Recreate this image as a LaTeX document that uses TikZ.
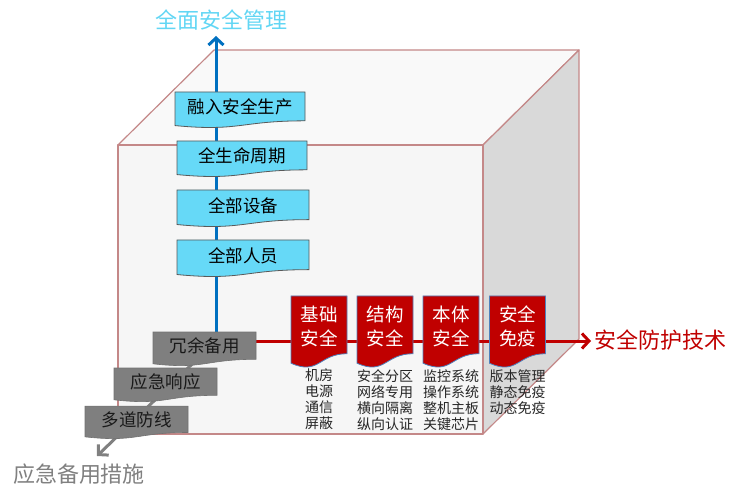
\documentclass[tikz,border=0pt]{standalone}
\usepackage{fontspec}
\setmainfont{Noto Sans CJK SC}
\usetikzlibrary{calc,arrows.meta}
\pgfdeclarelayer{cubelayer}
\pgfdeclarelayer{arrowlayer}
\pgfdeclarelayer{shapelayer}
\pgfsetlayers{cubelayer,arrowlayer,shapelayer,main}
\definecolor{edgered}{HTML}{C48888}
\definecolor{frontfill}{HTML}{F6F6F6}
\definecolor{topfill}{HTML}{F9F9F9}
\definecolor{sidefill}{HTML}{D9D9D9}
\definecolor{cyanfill}{HTML}{66D9F7}
\definecolor{titlecyan}{HTML}{62D6F4}
\definecolor{axisblue}{HTML}{0070C0}
\definecolor{axisred}{HTML}{C00000}
\definecolor{axisgray}{HTML}{808080}
\definecolor{boxgray}{HTML}{7F7F7F}
\definecolor{redborder}{HTML}{4F81BD}
\newcommand\docshape[2]{%
  \begin{pgfonlayer}{shapelayer}
  \path[#2] (#1.north west) -- (#1.north east)
    -- ($(#1.north east)!0.9548!(#1.south east)$)
    .. controls ($(#1.north)!0.9548!(#1.south)$) and ($(#1.north)!1.3179!(#1.south)$)
    .. ($(#1.north west)!1.1119!(#1.south west)$) -- cycle;
  \end{pgfonlayer}}
\tikzset{
  boxtext/.style={inner sep=0pt, outer sep=0pt, align=center, font=\fontsize{17.5}{21}\selectfont, text=black},
  bluebox/.style={boxtext},
  graybox/.style={boxtext, text=black!90},
  redbox/.style={boxtext, text=white, font=\fontsize{18.5}{24}\selectfont, minimum width=56pt, minimum height=60.5pt},
  blueshape/.style={fill=cyanfill, draw=black!65, line width=0.8pt},
  grayshape/.style={fill=boxgray, draw=boxgray!90!black, line width=0.6pt},
  redshape/.style={fill=axisred, draw=redborder, line width=0.8pt},
  sublist/.style={inner sep=0pt, align=center, anchor=north, font=\fontsize{14}{16}\selectfont, text=black!85},
  cubeedge/.style={draw=edgered, line width=1.2pt, line join=round},
  axis/.style={line width=3pt, -{Straight Barb[length=7pt,width=15pt]}},
  biglabel/.style={inner sep=0pt, font=\fontsize{22}{26}\selectfont}
}
\begin{document}
\begin{tikzpicture}[x=1pt,y=-1pt]
\useasboundingbox (0,0) rectangle (740,500);
% cube
\coordinate (fTL) at (118,145);
\coordinate (fTR) at (483,145);
\coordinate (fBR) at (483,434);
\coordinate (fBL) at (118,434);
\coordinate (bTL) at (214,50);
\coordinate (bTR) at (579,50);
\coordinate (bBR) at (579,339);
\begin{pgfonlayer}{cubelayer}
  \path[cubeedge, fill=topfill] (fTL) -- (bTL) -- (bTR) -- (fTR) -- cycle;
  \path[cubeedge, fill=sidefill] (fTR) -- (bTR) -- (bBR) -- (fBR) -- cycle;
  \path[cubeedge, fill=frontfill] (fTL) rectangle (fBR);
\end{pgfonlayer}
% labels
\node[biglabel, text=titlecyan] (ttl) at (221,20) {全面安全管理};
\node[biglabel, text=axisred, anchor=west] (tech) at (594,340) {安全防护技术};
\node[biglabel, text=axisgray] (emer) at (79,474) {应急备用措施};
% axes
\coordinate (o) at (216,341);
\coordinate (upEnd) at (216,36);
\coordinate (rightEnd) at (591,341);
\coordinate (dlEnd) at (97,456);
\begin{pgfonlayer}{arrowlayer}
  \draw[axis, axisblue] (o) -- (upEnd);
  \draw[axis, axisred] (o) -- (rightEnd);
  \draw[axis, axisgray] (o) -- (dlEnd);
\end{pgfonlayer}
% blue boxes
\node[bluebox, minimum width=130pt, minimum height=30.2pt] (b1) at (240,107.1) {融入安全生产};
\node[bluebox, minimum width=130pt, minimum height=30.2pt] (b2) at (242,156.1) {全生命周期};
\node[bluebox, minimum width=132pt, minimum height=31.1pt] (b3) at (243,205.5) {全部设备};
\node[bluebox, minimum width=132pt, minimum height=31.1pt] (b4) at (243,255.5) {全部人员};
\docshape{b1}{blueshape}
\docshape{b2}{blueshape}
\docshape{b3}{blueshape}
\docshape{b4}{blueshape}
% red boxes
\node[redbox] (r1) at (319,326.2) {基础\\安全};
\node[redbox] (r2) at (385,326.2) {结构\\安全};
\node[redbox] (r3) at (451,326.2) {本体\\安全};
\node[redbox] (r4) at (517.5,326.2) {安全\\免疫};
\docshape{r1}{redshape}
\docshape{r2}{redshape}
\docshape{r3}{redshape}
\docshape{r4}{redshape}
% lists
\node[sublist] (l1) at (319,369) {机房\\电源\\通信\\屏蔽};
\node[sublist] (l2) at (385,369) {安全分区\\网络专用\\横向隔离\\纵向认证};
\node[sublist] (l3) at (451,369) {监控系统\\操作系统\\整机主板\\关键芯片};
\node[sublist] (l4) at (517.5,369) {版本管理\\静态免疫\\动态免疫};
% gray boxes
\node[graybox, minimum width=103pt, minimum height=28.6pt] (g1) at (204.5,346.3) {冗余备用};
\node[graybox, minimum width=103pt, minimum height=28.6pt] (g2) at (165.5,382.3) {应急响应};
\node[graybox, minimum width=103pt, minimum height=27.7pt] (g3) at (136.5,419.9) {多道防线};
\docshape{g1}{grayshape}
\docshape{g2}{grayshape}
\docshape{g3}{grayshape}
\end{tikzpicture}
\end{document}
